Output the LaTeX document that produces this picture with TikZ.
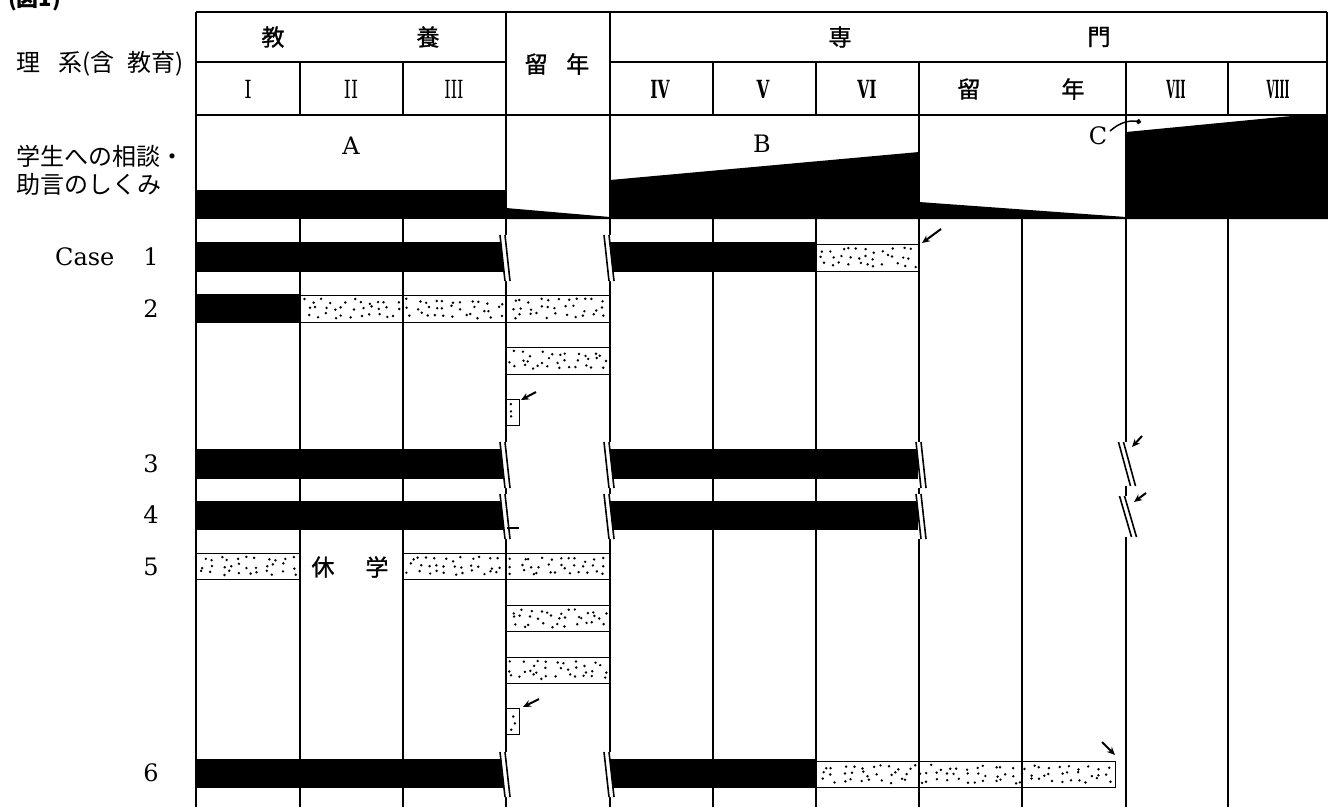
\documentclass[tikz,border=0pt]{standalone}
\usepackage{fontspec}
\usepackage{graphicx}
\setmainfont{DejaVu Serif}
\newfontfamily\jp{Noto Sans CJK JP}
\newfontfamily\jpb{Noto Sans CJK JP}[FakeBold=1.2]
\usetikzlibrary{arrows.meta}
\newcommand\fs[1]{\fontsize{#1}{#1}\selectfont}
\tikzset{
  grid/.style={line width=1.3},
  brkline/.style={line width=1.6},
  stipline/.style={line width=1.0},
  arr/.style={line width=2,-{Stealth[length=8pt,width=7pt]}},
  jph/.style={font=\jpb\fs{23},inner sep=0},
  jpl/.style={font=\jp\fs{24},inner sep=0,anchor=west},
  rom/.style={font=\fs{25},inner sep=0},
  romb/.style={font=\bfseries\fs{25},inner sep=0},
  lat/.style={font=\fs{24},inner sep=0},
}
% stippled bar: x1,y1,x2,y2 (jittered grid of dots)
\newcommand\stipbar[4]{%
  \draw[stipline] (#1,#2) rectangle (#3,#4);
  \pgfmathtruncatemacro\stnc{max(1,round(((#3)-(#1))/9.5))}%
  \pgfmathtruncatemacro\stnr{max(1,round(((#4)-(#2))/8.7))}%
  \pgfmathsetmacro\stcw{((#3)-(#1)-5)/\stnc}%
  \pgfmathsetmacro\strh{((#4)-(#2)-6)/\stnr}%
  \foreach \c in {1,...,\stnc}{\foreach \r in {1,...,\stnr}{%
    \fill ({#1+2.5+(\c-0.5)*\stcw+(rnd-0.5)*0.85*\stcw},{#2+3+(\r-0.5)*\strh+(rnd-0.5)*0.8*\strh}) circle[radius=1.35pt];}}%
}
% erase a piece of column line: x,y1,y2
\newcommand\erasecol[3]{\fill[white] ({#1-1.3},#2) rectangle ({#1+1.3},#3);}
% break mark: centre x, y1, y2, slant
\newcommand\brkmark[4]{%
  \fill[white] ({#1-#4/2-2.5},#2) -- ({#1-#4/2+2.5},#2) -- ({#1+#4/2+2.5},#3) -- ({#1+#4/2-2.5},#3) -- cycle;
  \draw[brkline] ({#1-#4/2-2.5},#2) -- ({#1+#4/2-2.5},#3);
  \draw[brkline] ({#1-#4/2+2.5},#2) -- ({#1+#4/2+2.5},#3);
}
\begin{document}
\begin{tikzpicture}[x=1pt,y=-1pt]
\pgfmathsetseed{11}
\useasboundingbox (0,0) rectangle (1328,807);
\fill[white] (0,0) rectangle (1328,807);

% ---------- header grid ----------
\draw[grid] (196,12) -- (1327,12);
\draw[grid] (196,62) -- (506,62);
\draw[grid] (610,62) -- (1327,62);
\draw[grid] (196,115) -- (1327,115);
\draw[grid] (1327,12) -- (1327,219);
\foreach \x in {506,610} \draw[grid] (\x,12) -- (\x,219);
\foreach \x in {300,403,713,816,919,1126,1228} \draw[grid] (\x,62) -- (\x,115);
\foreach \x in {919,1126} \draw[grid] (\x,115) -- (\x,219);
\draw[grid] (196,12) -- (196,807);
\foreach \x in {300,403,506,610,713,816,919,1022,1126,1228} \draw[grid] (\x,219) -- (\x,807);

% ---------- mechanism row ----------
\fill (196,190) rectangle (506,219);
\fill (506,208) -- (610,217) -- (610,219) -- (506,219) -- cycle;
\fill (610,180) -- (919,152) -- (919,219) -- (610,219) -- cycle;
\fill (919,202) -- (1126,217) -- (1126,219) -- (919,219) -- cycle;
\fill (1126,132) -- (1302,115) -- (1328,115) -- (1328,219) -- (1126,219) -- cycle;

% ---------- header texts ----------
\node[font=\jp\bfseries\fs{22},anchor=base west,inner sep=0] (fig) at (8,6) {(図1)};
\node[jph] (kyo) at (273,37) {教};
\node[jph] (yo) at (428,37) {養};
\node[jph] (ryu1) at (557,64) {留\hspace{0.8em}年};
\node[jph] (sen) at (840,37) {専};
\node[jph] (mon) at (1099,37) {門};
\node[rom] (r1) at (248,89) {\scalebox{0.75}[1]{I}};
\node[rom] (r2) at (351,89) {\scalebox{0.72}[1]{II}};
\node[rom] (r3) at (454,89) {\scalebox{0.65}[1]{III}};
\node[romb] (r4) at (660,89) {\scalebox{0.62}[1]{IV}};
\node[romb] (r5) at (763,89) {\scalebox{0.66}[1]{V}};
\node[romb] (r6) at (867,89) {\scalebox{0.62}[1]{VI}};
\node[jph] (ryu2a) at (969,89) {留};
\node[jph] (ryu2b) at (1073,89) {年};
\node[romb] (r7) at (1176,89) {\scalebox{0.45}[1]{VII}};
\node[romb] (r8) at (1278,89) {\scalebox{0.42}[1]{VIII}};
\node[font=\jp\fs{24},inner sep=0,anchor=west] (rikei) at (16,64) {理\hspace{0.75em}系(含\hspace{0.55em}教育)};
\node[jpl] (soudan1) at (16,156) {学生への相談・};
\node[jpl] (soudan2) at (16,184) {助言のしくみ};
\node[lat] (lA) at (351,146) {A};
\node[lat] (lB) at (762,144) {B};
\node[lat] (lC) at (1098,136) {C};
\coordinate (cs) at (1110,131);
\coordinate (ce) at (1141,122);
\draw[line width=1.5,-{Circle[length=5pt]}] (cs) to[bend left=25] (ce);

% ---------- case labels ----------
\node[lat,anchor=west] (case) at (55,257) {Case};
\node[lat] (c1) at (151,257) {1};
\node[lat] (c2) at (151,309) {2};
\node[lat] (c3) at (151,464) {3};
\node[lat] (c4) at (151,515) {4};
\node[lat] (c5) at (151,567) {5};
\node[lat] (c6) at (151,773) {6};

% ---------- erase column pieces at breaks ----------
\erasecol{506}{235}{281}
\erasecol{610}{235}{281}
\erasecol{506}{442}{488}
\erasecol{610}{442}{488}
\erasecol{919}{442}{488}
\erasecol{506}{494}{539}
\erasecol{610}{494}{539}
\erasecol{919}{494}{539}
\erasecol{1126}{442}{486}
\erasecol{1126}{496}{537}
\erasecol{506}{752}{797}
\erasecol{610}{752}{797}

% ---------- Case 1 ----------
\fill (196,242) rectangle (505,272);
\fill (610,242) rectangle (816,272);
\stipbar{816}{244}{919}{271}
\brkmark{505}{235}{281}{5}
\brkmark{609}{235}{281}{5}
\coordinate (a1s) at (941,229);
\coordinate (a1e) at (922,243);
\draw[arr] (a1s) -- (a1e);

% ---------- Case 2 ----------
\fill (196,294) rectangle (300,323);
\stipbar{300}{295}{403}{322}
\stipbar{403}{295}{506}{322}
\stipbar{506}{295}{610}{322}
\stipbar{506}{347}{610}{374}
\stipbar{506}{399}{519}{425}
\coordinate (a2s) at (536,392);
\coordinate (a2e) at (521,400);
\draw[arr] (a2s) -- (a2e);

% ---------- Case 3 ----------
\fill (196,449) rectangle (505,479);
\fill (610,449) rectangle (918,479);
\brkmark{505}{442}{488}{5}
\brkmark{609}{442}{488}{5}
\brkmark{921}{442}{488}{5}
\brkmark{1127}{442}{486}{12}
\coordinate (a3s) at (1142,436);
\coordinate (a3e) at (1132,447);
\draw[arr] (a3s) -- (a3e);

% ---------- Case 4 ----------
\fill (196,501) rectangle (505,530);
\fill (610,501) rectangle (918,530);
\brkmark{505}{494}{539}{5}
\brkmark{609}{494}{539}{5}
\brkmark{921}{494}{539}{5}
\brkmark{1128}{496}{537}{12}
\draw[line width=2.2] (507,528) -- (519,528);
\coordinate (a4s) at (1146,493);
\coordinate (a4e) at (1134,502);
\draw[arr] (a4s) -- (a4e);

% ---------- Case 5 ----------
\stipbar{196}{553}{300}{579}
\node[jph] (kyu) at (323,567) {休};
\node[jph] (gaku) at (377,567) {学};
\stipbar{403}{553}{506}{579}
\stipbar{506}{553}{610}{579}
\stipbar{506}{605}{610}{631}
\stipbar{506}{657}{610}{683}
\stipbar{506}{708}{519}{734}
\coordinate (a5s) at (539,699);
\coordinate (a5e) at (523,707);
\draw[arr] (a5s) -- (a5e);

% ---------- Case 6 ----------
\fill (196,759) rectangle (505,788);
\fill (610,759) rectangle (816,788);
\stipbar{816}{761}{1115}{787}
\brkmark{505}{752}{797}{5}
\brkmark{609}{752}{797}{5}
\coordinate (a6s) at (1102,742);
\coordinate (a6e) at (1115,755);
\draw[arr] (a6s) -- (a6e);
\end{tikzpicture}
\end{document}
